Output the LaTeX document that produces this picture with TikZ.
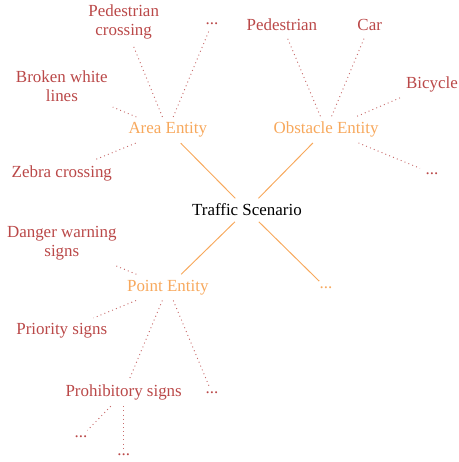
\documentclass[tikz,border=0pt]{standalone}
\usepackage{fontspec}
\setmainfont{Liberation Serif}
\definecolor{entityorange}{RGB}{247,168,92}
\definecolor{leafred}{RGB}{186,72,72}

\begin{document}
\begin{tikzpicture}[font=\fontsize{10.6pt}{12pt}\selectfont,
  entity/.style={text=entityorange},
  leaf/.style={text=leafred, align=center},
  trunk/.style={entityorange, line width=0.6pt},
  twig/.style={leafred!80, dotted, line width=0.6pt}]
  \useasboundingbox (-5.43,-5.54) rectangle (4.66,4.62);
  \node (S) at (0,0) {Traffic Scenario};
  \node[entity] (A) at (-1.74, 1.76) {Area Entity};
  \node[entity] (O) at (1.74, 1.77) {Obstacle Entity};
  \node[entity] (P) at (-1.74,-1.70) {Point Entity};
  \node[entity] (E) at (1.74,-1.71) {...};
  \draw[trunk] (S) -- (A);
  \draw[trunk] (S) -- (O);
  \draw[trunk] (S) -- (P);
  \draw[trunk] (S) -- (E);
  % area entity
  \node[leaf] (A1) at (-2.71, 4.13) {Pedestrian\\crossing};
  \node[leaf] (A2) at (-0.77, 4.10) {...};
  \node[leaf] (A3) at (-4.07, 2.73) {Broken white\\lines};
  \node[leaf] (A4) at (-4.07, 0.81) {Zebra crossing};
  \foreach \n in {A1,A2,A3,A4}
    \draw[twig] (A) -- (\n);
  % obstacle entity
  \node[leaf] (O1) at (0.77, 4.07) {Pedestrian};
  \node[leaf] (O2) at (2.70, 4.07) {Car};
  \node[leaf] (O3) at (4.07, 2.77) {Bicycle};
  \node[leaf] (O4) at (4.07, 0.81) {...};
  \foreach \n in {O1,O2,O3,O4}
    \draw[twig] (O) -- (\n);
  % point entity
  \node[leaf] (P1) at (-4.07,-0.73) {Danger warning\\signs};
  \node[leaf] (P2) at (-4.07,-2.66) {Priority signs};
  \node[leaf] (P3) at (-2.71,-4.02) {Prohibitory signs};
  \node[leaf] (P4) at (-0.77,-4.02) {...};
  \foreach \n in {P1,P2,P3,P4}
    \draw[twig] (P) -- (\n);
  \node[leaf] (P31) at (-3.65,-4.99) {...};
  \node[leaf] (P32) at (-2.71,-5.38) {...};
  \draw[twig] (P3) -- (P31);
  \draw[twig] (P3) -- (P32);
\end{tikzpicture}
\end{document}
